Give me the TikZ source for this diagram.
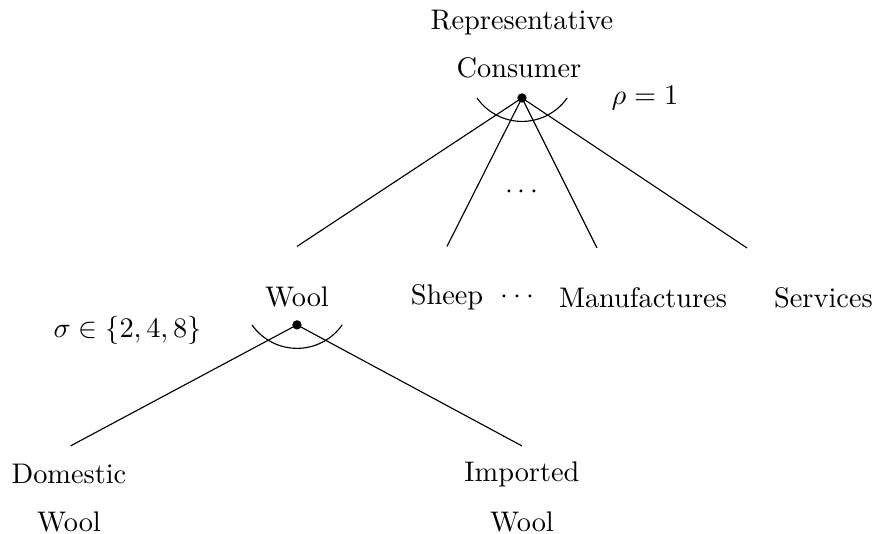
\documentclass[tikz,border=0pt]{standalone}
\begin{document}
\begin{tikzpicture}[x=1.86cm,y=1.86cm]
            \tikzset{dot/.style={circle, fill, inner sep=0pt, minimum size=3.3pt}}
            \useasboundingbox (-3.48, -2.907) rectangle (2.367, 0.653);

            \node (rep) at (0, 0.5) { Representative };
            \node (cons) at (-0.02, 0.2) { Consumer };
            \node[dot] (top) at (0, 0) {};
            \node (rho) at (0.82, 0) { $\rho = 1$ };
            \draw ([shift={(-0.3, 0)}]top.center) arc[start angle=215, end angle=325, radius=0.367];

            \coordinate (wl) at (-1.5, -0.99);
            \coordinate (sh) at (-0.5, -0.99);
            \coordinate (mf) at (0.5, -1);
            \coordinate (sv) at (1.5, -1);
            \draw (top.center) -- (wl);
            \draw (top.center) -- (sh);
            \draw (top.center) -- (mf);
            \draw (top.center) -- (sv);
            \node (dots1) at (0, -0.63) { $\cdots$ };

            \node (wool) at (-1.5, -1.33) { Wool };
            \node (sheep) at (-0.5, -1.33) { Sheep };
            \node (dots2) at (-0.03, -1.33) { $\cdots$ };
            \node (manu) at (0.807, -1.33) { Manufactures };
            \node (serv) at (2.01, -1.33) { Services };

            \node[dot] (wdot) at (-1.5, -1.513) {};
            \node (sigma) at (-2.63, -1.55) { $\sigma \in \{2, 4, 8\}$ };
            \draw ([shift={(-0.3, 0)}]wdot.center) arc[start angle=215, end angle=325, radius=0.367];

            \coordinate (dw) at (-3.01, -2.32);
            \coordinate (iw) at (0, -2.32);
            \draw (wdot.center) -- (dw);
            \draw (wdot.center) -- (iw);

            \node (dom) at (-3.02, -2.51) { Domestic };
            \node (dom2) at (-3.02, -2.83) { Wool };
            \node (imp) at (0, -2.51) { Imported };
            \node (imp2) at (0, -2.83) { Wool };
        \end{tikzpicture}
\end{document}
